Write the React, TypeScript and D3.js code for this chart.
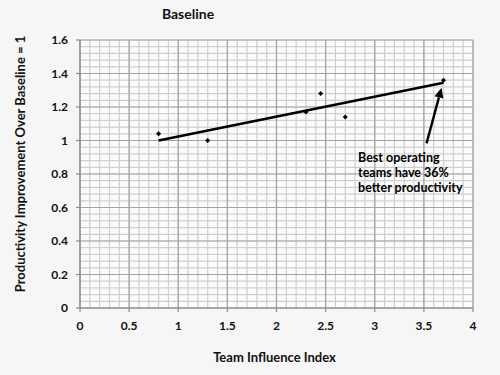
import React, { useEffect } from 'react';
import * as d3 from 'd3';

// data
const influence = [0.8, 1.3, 2.3, 2.45, 2.7, 3.7];
const productivity = [1.04, 1.0, 1.17, 1.28, 1.14, 1.36];
const trendX = [0.8, 3.7];
const trendY = [1.0, 1.345];
const xTicks = [0, 0.5, 1, 1.5, 2, 2.5, 3, 3.5, 4];
const yTicks = [0, 0.2, 0.4, 0.6, 0.8, 1, 1.2, 1.4, 1.6];
const noteLines = ['Best operating', 'teams have 36%', 'better productivity'];
const arrowFrom = [3.527, 0.983];
const arrowTo = [3.68, 1.315];

const W = 500;
const H = 375;
const margin = { top: 40, right: 27, bottom: 67, left: 80 };
const FONT = 'Lato, "Liberation Sans", sans-serif';

const App = () => {
   useEffect(() => {
      document.body.style.margin = '0';
   }, []);

   const x = d3.scaleLinear().domain([0, 4]).range([margin.left, W - margin.right]);
   const y = d3.scaleLinear().domain([0, 1.6]).range([H - margin.bottom, margin.top]);

   const minorX = d3.range(0, 41).map(i => i / 10);
   const minorY = d3.range(0, 41).map(i => i * 0.04);

   const diamond = d3.symbol(d3.symbolDiamond2, 16)();
   const line = d3.line<number>().x((_, i) => x(trendX[i])).y(d => y(d));

   // arrow head geometry
   const ax0 = x(arrowFrom[0]), ay0 = y(arrowFrom[1]);
   const ax1 = x(arrowTo[0]), ay1 = y(arrowTo[1]);
   const ang = Math.atan2(ay1 - ay0, ax1 - ax0);
   const headLen = 10, headW = 4.5;
   const bx = ax1 - headLen * Math.cos(ang), by = ay1 - headLen * Math.sin(ang);
   const head = [
      [ax1, ay1],
      [bx + headW * Math.sin(ang), by - headW * Math.cos(ang)],
      [bx - headW * Math.sin(ang), by + headW * Math.cos(ang)],
   ];

   const [x0, x1] = x.range();
   const [y0, y1] = y.range();

   return (
      <svg width={W} height={H} style={{ display: 'block', background: '#f6f6f6' }} fontFamily={FONT}>
         <rect x={x0} y={y1} width={x1 - x0} height={y0 - y1} fill="#fcfcfc" />

         {/* minor grid */}
         {minorX.map((d, i) => (
            <line key={'mx' + i} x1={x(d)} x2={x(d)} y1={y1} y2={y0} stroke="#cfcfcf" strokeWidth={1.2} />
         ))}
         {minorY.map((d, i) => (
            <line key={'my' + i} x1={x0} x2={x1} y1={y(d)} y2={y(d)} stroke="#cfcfcf" strokeWidth={1.2} />
         ))}
         {/* major grid */}
         {xTicks.map((d, i) => (
            <line key={'gx' + i} x1={x(d)} x2={x(d)} y1={y1} y2={y0} stroke="#a3a3a3" strokeWidth={1.2} />
         ))}
         {yTicks.map((d, i) => (
            <line key={'gy' + i} x1={x0} x2={x1} y1={y(d)} y2={y(d)} stroke="#a3a3a3" strokeWidth={1.2} />
         ))}

         {/* axes */}
         <line x1={x0} x2={x0} y1={y1} y2={y0} stroke="#8c8c8c" strokeWidth={1.2} />
         <line x1={x0} x2={x1} y1={y0} y2={y0} stroke="#8c8c8c" strokeWidth={1.2} />
         {yTicks.map((d, i) => (
            <g key={'yt' + i}>
               <line x1={x0 - 4} x2={x0} y1={y(d)} y2={y(d)} stroke="#8c8c8c" strokeWidth={1.2} />
               <text x={x0 - 12} y={y(d)} dy="0.35em" textAnchor="end" fontSize={12} fontWeight="bold" fill="#111">
                  {d}
               </text>
            </g>
         ))}
         {xTicks.map((d, i) => (
            <g key={'xt' + i}>
               <line x1={x(d)} x2={x(d)} y1={y0} y2={y0 + 4} stroke="#8c8c8c" strokeWidth={1.2} />
               <text x={x(d)} y={y0 + 18} dy="0.35em" textAnchor="middle" fontSize={12} fontWeight="bold" fill="#111">
                  {d}
               </text>
            </g>
         ))}

         {/* trend line */}
         <path d={line(trendY) || ''} fill="none" stroke="#000" strokeWidth={2.6} />

         {/* points */}
         {influence.map((d, i) => (
            <path key={'p' + i} d={diamond || ''} transform={`translate(${x(d)},${y(productivity[i])})`} fill="#000" />
         ))}

         {/* annotation */}
         <line x1={ax0} y1={ay0} x2={bx} y2={by} stroke="#000" strokeWidth={2.4} />
         <polygon points={head.map(p => p.join(',')).join(' ')} fill="#000" />
         {noteLines.map((t, i) => (
            <text key={'n' + i} x={x(2.83)} y={158 + i * 15} dy="0.35em" fontSize={12.5} fontWeight="bold" fill="#000">
               {t}
            </text>
         ))}

         {/* titles */}
         <text x={188} y={14} dy="0.35em" textAnchor="middle" fontSize={14} fontWeight="bold" fill="#111">
            Baseline
         </text>
         <text x={(x0 + x1) / 2 - 2} y={357} dy="0.35em" textAnchor="middle" fontSize={13} fontWeight="bold" fill="#111">
            Team Influence Index
         </text>
         <text
            transform={`translate(20,164) rotate(-90)`}
            dy="0.35em"
            textAnchor="middle"
            fontSize={13}
            fontWeight="bold"
            fill="#111"
         >
            Productivity Improvement Over Baseline = 1
         </text>
      </svg>
   );
};

export default App;
